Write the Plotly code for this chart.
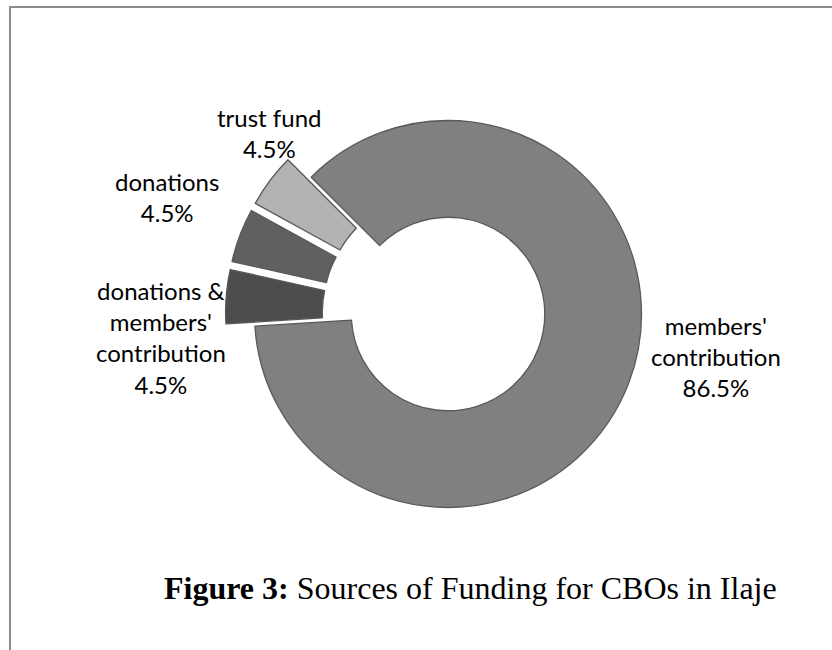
import plotly.graph_objects as go

# ---- data ----
categories = ["members' contribution", "donations & members' contribution", "donations", "trust fund"]
label_lines = ["members'<br>contribution", "donations &<br>members'<br>contribution", "donations", "trust fund"]
values = [86.5, 4.5, 4.5, 4.5]
colors = ["#808080", "#4d4d4d", "#606060", "#b3b3b3"]
pulls = [0, 0.15, 0.15, 0.15]

W, H = 832, 650

# domain: centre (448, 314) px, radius ~193.5 px -> box 445 px
cx, cy, box = 448, 314, 445
dom_x = [(cx - box / 2) / W, (cx + box / 2) / W]
dom_y = [1 - (cy + box / 2) / H, 1 - (cy - box / 2) / H]

fig = go.Figure(go.Pie(
    labels=categories,
    values=values,
    sort=False,
    direction="clockwise",
    rotation=-45,
    hole=0.5,
    pull=pulls,
    marker=dict(colors=colors, line=dict(color="#595959", width=1.3)),
    textinfo="none",
    hoverinfo="label+percent",
    showlegend=False,
    domain=dict(x=dom_x, y=dom_y),
))

# label positions (px, centre of text block)
label_pos = [(716, 356), (161, 337), (167, 197), (269, 133)]
annotations = []
for txt, v, (px, py) in zip(label_lines, values, label_pos):
    annotations.append(dict(
        x=px / W, y=1 - py / H, xref="paper", yref="paper",
        text=f"{txt}<br>{v}%", showarrow=False, align="center",
        xanchor="center", yanchor="middle",
        font=dict(family="Lato", size=24, color="#000000"),
    ))

annotations.append(dict(
    x=470 / W, y=1 - 588 / H, xref="paper", yref="paper",
    text="<b>Figure 3:</b> Sources of Funding for CBOs in Ilaje",
    showarrow=False, xanchor="center", yanchor="middle",
    font=dict(family="Liberation Serif", size=32, color="#000000"),
))

shapes = [
    dict(type="line", xref="paper", yref="paper", x0=9 / W, x1=1, y0=1 - 7 / H, y1=1 - 7 / H,
         line=dict(color="#8c8c8c", width=2)),
    dict(type="line", xref="paper", yref="paper", x0=10 / W, x1=10 / W, y0=0, y1=1 - 7 / H,
         line=dict(color="#8c8c8c", width=2)),
]

fig.update_layout(
    width=W, height=H,
    margin=dict(l=0, r=0, t=0, b=0),
    paper_bgcolor="white", plot_bgcolor="white",
    annotations=annotations, shapes=shapes,
)

fig.write_html("out.html", config={"displayModeBar": False},
               post_script="document.body.style.margin='0';")
